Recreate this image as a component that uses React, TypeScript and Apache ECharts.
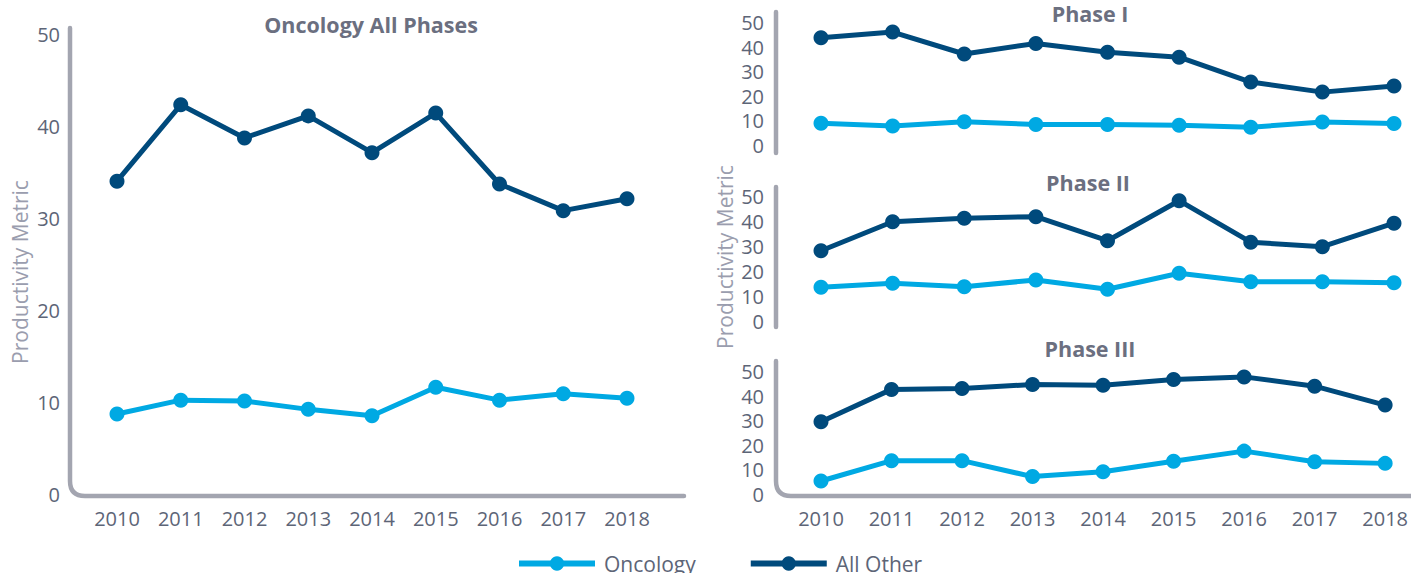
import React, { useEffect, useRef } from "react";
import * as echarts from "echarts";

const years = ["2010", "2011", "2012", "2013", "2014", "2015", "2016", "2017", "2018"];
const yTicks = [0, 10, 20, 30, 40, 50];

const allOncology = [8.7, 10.2, 10.1, 9.2, 8.5, 11.6, 10.2, 10.9, 10.4];
const allOther = [34.0, 42.3, 38.7, 41.1, 37.1, 41.4, 33.7, 30.8, 32.1];

const p1Oncology = [9.0, 7.9, 9.7, 8.5, 8.5, 8.2, 7.4, 9.6, 8.9];
const p1Other = [43.8, 46.1, 37.2, 41.5, 37.9, 35.9, 25.8, 21.7, 24.2];

const p2Oncology = [13.8, 15.4, 14.0, 16.7, 13.0, 19.4, 16.0, 16.0, 15.6];
const p2Other = [28.4, 40.0, 41.4, 42.0, 32.4, 48.4, 31.8, 30.0, 39.4];

const p3Oncology = [5.3, 13.6, 13.6, 7.1, 9.1, 13.4, 17.5, 13.2, 12.5];
const p3Other = [29.5, 42.7, 43.1, 44.7, 44.4, 46.7, 47.8, 44.0, 36.3];

const panelTitles = ["Oncology All Phases", "Phase I", "Phase II", "Phase III"];
const seriesNames = ["Oncology", "All Other"];
const axisName = "Productivity Metric";

const COLOR_ONC = "#00a9e3";
const COLOR_OTHER = "#004a7c";
const AXIS_COLOR = "#a3a5b0";
const LABEL_COLOR = "#5d6577";
const TITLE_COLOR = "#6b6f80";
const NAME_COLOR = "#9a9dae";
const FONT = "'Open Sans', 'Noto Sans', sans-serif";

echarts.graphic.registerShape(
  "axisLLeft",
  echarts.graphic.extendPath("M70 28 L70 481 Q70 496 85 496 L684 496", {})
);
echarts.graphic.registerShape(
  "axisLRight",
  echarts.graphic.extendPath("M776 361 L776 481 Q776 496 791 496 L1411 496", {})
);

export default function App() {
  const ref = useRef<HTMLDivElement>(null);

  useEffect(() => {
    document.body.style.margin = "0";
    if (!ref.current) return;
    const chart = echarts.init(ref.current, undefined, { renderer: "svg" });

    const grids = [
      { left: 117, width: 510, top: 34, height: 460 },
      { left: 821, width: 573, top: 22.5, height: 123 },
      { left: 821, width: 573, top: 196.7, height: 125 },
      { left: 821, width: 573, top: 371.5, height: 122.5 },
    ];

    const showX = [true, false, false, true];
    const xAxes = grids.map((_, i) => ({
      type: "category",
      gridIndex: i,
      data: years,
      boundaryGap: false,
      axisLine: { show: false },
      axisTick: { show: false },
      splitLine: { show: false },
      axisLabel: {
        show: showX[i],
        margin: 14,
        fontSize: 20,
        color: LABEL_COLOR,
        fontFamily: FONT,
      },
    }));

    const yAxes = grids.map((_, i) => ({
      type: "value",
      gridIndex: i,
      min: yTicks[0],
      max: yTicks[yTicks.length - 1],
      interval: 10,
      axisLine: { show: false },
      axisTick: { show: false },
      splitLine: { show: false },
      axisLabel: {
        margin: 57,
        fontSize: 20,
        color: LABEL_COLOR,
        fontFamily: FONT,
      },
    }));

    const data = [
      [allOncology, allOther],
      [p1Oncology, p1Other],
      [p2Oncology, p2Other],
      [p3Oncology, p3Other],
    ];
    const series: any[] = [];
    data.forEach((pair, i) => {
      pair.forEach((vals, j) => {
        const color = j === 0 ? COLOR_ONC : COLOR_OTHER;
        series.push({
          type: "line",
          name: seriesNames[j],
          xAxisIndex: i,
          yAxisIndex: i,
          data: vals,
          symbol: "circle",
          symbolSize: 15,
          showSymbol: true,
          lineStyle: { width: 5, color, join: "round" },
          itemStyle: { color },
          emphasis: { disabled: true },
        });
      });
    });

    const titlePos = [
      [371, 24],
      [1090, 13],
      [1088, 182],
      [1090, 348],
    ];

    const graphic: any[] = [
      {
        type: "axisLLeft",
        x: 0,
        y: 0,
        silent: true,
        style: { fill: "none", stroke: AXIS_COLOR, lineWidth: 4.5, lineCap: "round", lineJoin: "round" },
      },
      {
        type: "axisLRight",
        x: 0,
        y: 0,
        silent: true,
        style: { fill: "none", stroke: AXIS_COLOR, lineWidth: 4.5, lineCap: "round", lineJoin: "round" },
      },
      {
        type: "line",
        silent: true,
        shape: { x1: 776, y1: 12, x2: 776, y2: 153 },
        style: { stroke: AXIS_COLOR, lineWidth: 4.5, lineCap: "round" },
      },
      {
        type: "line",
        silent: true,
        shape: { x1: 776, y1: 187, x2: 776, y2: 327 },
        style: { stroke: AXIS_COLOR, lineWidth: 4.5, lineCap: "round" },
      },
      ...panelTitles.map((t, i) => ({
        type: "text",
        x: titlePos[i][0],
        y: titlePos[i][1],
        silent: true,
        style: {
          text: t,
          align: "center",
          verticalAlign: "middle",
          fontSize: 21.5,
          fontWeight: "bold",
          fontFamily: FONT,
          fill: TITLE_COLOR,
        },
      })),
      {
        type: "text",
        x: 20,
        y: 272,
        rotation: Math.PI / 2,
        silent: true,
        style: {
          text: axisName,
          align: "center",
          verticalAlign: "middle",
          fontSize: 21,
          fontFamily: FONT,
          fill: NAME_COLOR,
        },
      },
      {
        type: "text",
        x: 725,
        y: 257,
        rotation: Math.PI / 2,
        silent: true,
        style: {
          text: axisName,
          align: "center",
          verticalAlign: "middle",
          fontSize: 21,
          fontFamily: FONT,
          fill: NAME_COLOR,
        },
      },
    ];

    chart.setOption({
      animation: false,
      backgroundColor: "#ffffff",
      grid: grids,
      xAxis: xAxes,
      yAxis: yAxes,
      series,
      graphic,
      legend: {
        data: seriesNames,
        left: 516,
        top: 553,
        itemWidth: 76,
        itemHeight: 18,
        itemGap: 52,
        padding: 0,
        lineStyle: { width: 6 },
        textStyle: { fontSize: 21, color: LABEL_COLOR, fontFamily: FONT, padding: [0, 0, 0, 4] },
        selectedMode: false,
      },
    });

    return () => chart.dispose();
  }, []);

  return <div ref={ref} style={{ width: 1411, height: 573 }} />;
}
